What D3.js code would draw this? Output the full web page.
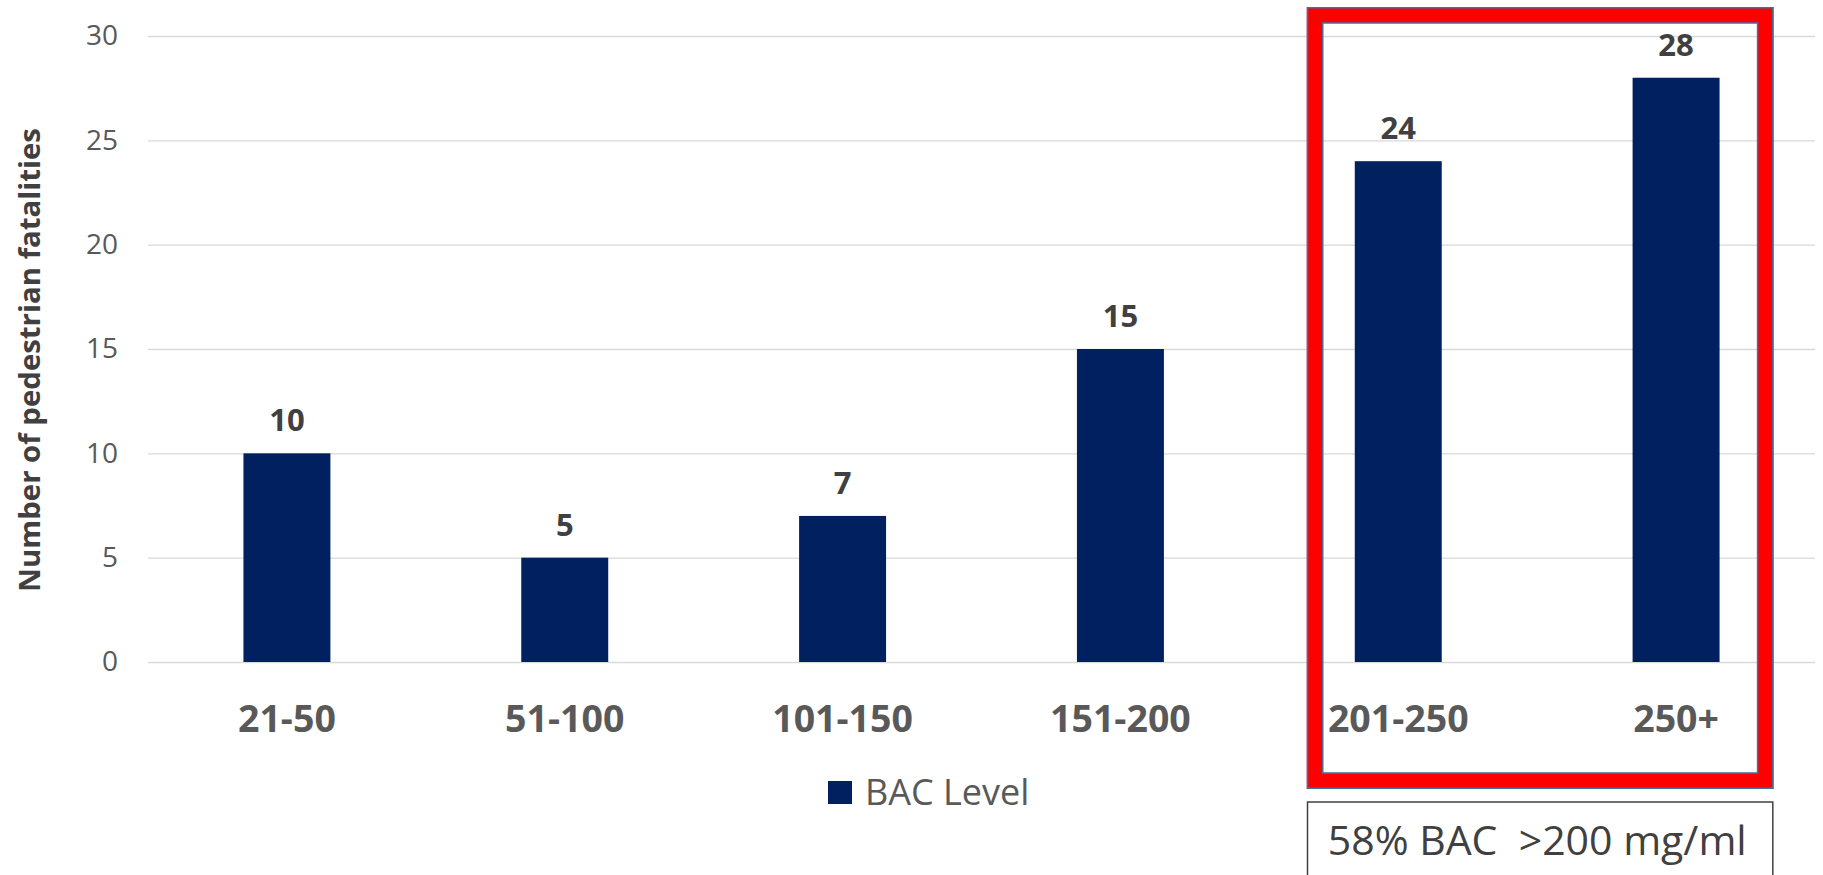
<!DOCTYPE html>
<html>
<head>
<meta charset="utf-8">
<script src="https://cdn.jsdelivr.net/npm/d3@7/dist/d3.min.js"></script>
<style>
  body { margin: 0; background: #fff; }
  svg { display: block; font-family: "Open Sans", sans-serif; }
</style>
</head>
<body>
<svg id="chart" width="1823" height="875"></svg>
<script>
const categories = ["21-50", "51-100", "101-150", "151-200", "201-250", "250+"];
const values = [10, 5, 7, 15, 24, 28];
const yTicks = [0, 5, 10, 15, 20, 25, 30];
const seriesName = "BAC Level";
const yTitle = "Number of pedestrian fatalities";
const note = "58% BAC  >200 mg/ml";

const svg = d3.select("#chart");

const plotL = 148, plotR = 1815, plotT = 36, plotB = 662;

const x = d3.scaleBand()
    .domain(categories)
    .range([plotL, plotR])
    .paddingInner(0.687)
    .paddingOuter(0.3435);

const y = d3.scaleLinear()
    .domain([0, 30])
    .range([plotB, plotT]);

// gridlines + y tick labels
const yAxis = svg.append("g")
    .attr("transform", `translate(${plotL},0)`)
    .call(d3.axisLeft(y)
        .tickValues(yTicks)
        .tickSize(-(plotR - plotL))
        .tickPadding(30));

yAxis.select(".domain").remove();
yAxis.selectAll(".tick line")
    .attr("stroke", "#d9d9d9")
    .attr("stroke-width", 1.4);
yAxis.selectAll(".tick text")
    .attr("fill", "#595959")
    .attr("font-size", 28)
    .attr("font-family", "Open Sans");

// bars
svg.selectAll("rect.bar")
    .data(values)
    .enter()
    .append("rect")
    .attr("class", "bar")
    .attr("x", (d, i) => x(categories[i]))
    .attr("y", d => y(d))
    .attr("width", x.bandwidth())
    .attr("height", d => y(0) - y(d))
    .attr("fill", "#002060");

// value labels
svg.selectAll("text.val")
    .data(values)
    .enter()
    .append("text")
    .attr("class", "val")
    .attr("x", (d, i) => x(categories[i]) + x.bandwidth() / 2)
    .attr("y", d => y(d) - 22)
    .attr("text-anchor", "middle")
    .attr("font-size", 31)
    .attr("font-weight", "bold")
    .attr("fill", "#404040")
    .text(d => d);

// category labels
svg.selectAll("text.cat")
    .data(categories)
    .enter()
    .append("text")
    .attr("class", "cat")
    .attr("x", d => x(d) + x.bandwidth() / 2)
    .attr("y", 732)
    .attr("text-anchor", "middle")
    .attr("font-size", 37.5)
    .attr("font-weight", "bold")
    .attr("fill", "#595959")
    .text(d => d);

// y axis title, squeezed to the reference width
const title = svg.append("text")
    .attr("transform", "translate(40,360) rotate(-90)")
    .attr("text-anchor", "middle")
    .attr("font-size", 30)
    .attr("font-weight", "bold")
    .attr("fill", "#404040")
    .text(yTitle);
const tl = title.node().getComputedTextLength();
title.attr("font-size", 30 * 464 / tl);

// legend
const legend = svg.append("g").attr("transform", "translate(828,781)");
legend.append("rect")
    .attr("width", 24)
    .attr("height", 23)
    .attr("fill", "#002060");
legend.append("text")
    .attr("x", 37)
    .attr("y", 24)
    .attr("font-size", 36)
    .attr("fill", "#595959")
    .text(seriesName);

// highlight box around the last two categories
const boxL = x(categories[4]) - 48;
const boxR = x(categories[5]) + x.bandwidth() + 54;
const boxT = 7, boxB = 789, sw = 16;

svg.append("rect")
    .attr("x", boxL + sw / 2)
    .attr("y", boxT + sw / 2)
    .attr("width", boxR - boxL - sw)
    .attr("height", boxB - boxT - sw)
    .attr("fill", "none")
    .attr("stroke", "#ff0000")
    .attr("stroke-width", sw);
svg.append("rect")
    .attr("x", boxL + 0.75)
    .attr("y", boxT + 0.75)
    .attr("width", boxR - boxL - 1.5)
    .attr("height", boxB - boxT - 1.5)
    .attr("fill", "none")
    .attr("stroke", "#41719c")
    .attr("stroke-width", 1.5);
svg.append("rect")
    .attr("x", boxL + sw)
    .attr("y", boxT + sw)
    .attr("width", boxR - boxL - 2 * sw)
    .attr("height", boxB - boxT - 2 * sw)
    .attr("fill", "none")
    .attr("stroke", "#41719c")
    .attr("stroke-width", 1.5);

// note box
svg.append("rect")
    .attr("x", boxL + 0.75)
    .attr("y", 802)
    .attr("width", boxR - boxL - 1.5)
    .attr("height", 100)
    .attr("fill", "#fff")
    .attr("stroke", "#404040")
    .attr("stroke-width", 1.5);
svg.append("text")
    .attr("x", boxL + 21)
    .attr("y", 855)
    .attr("font-size", 41)
    .attr("fill", "#404040")
    .style("white-space", "pre")
    .text(note);
</script>
</body>
</html>
